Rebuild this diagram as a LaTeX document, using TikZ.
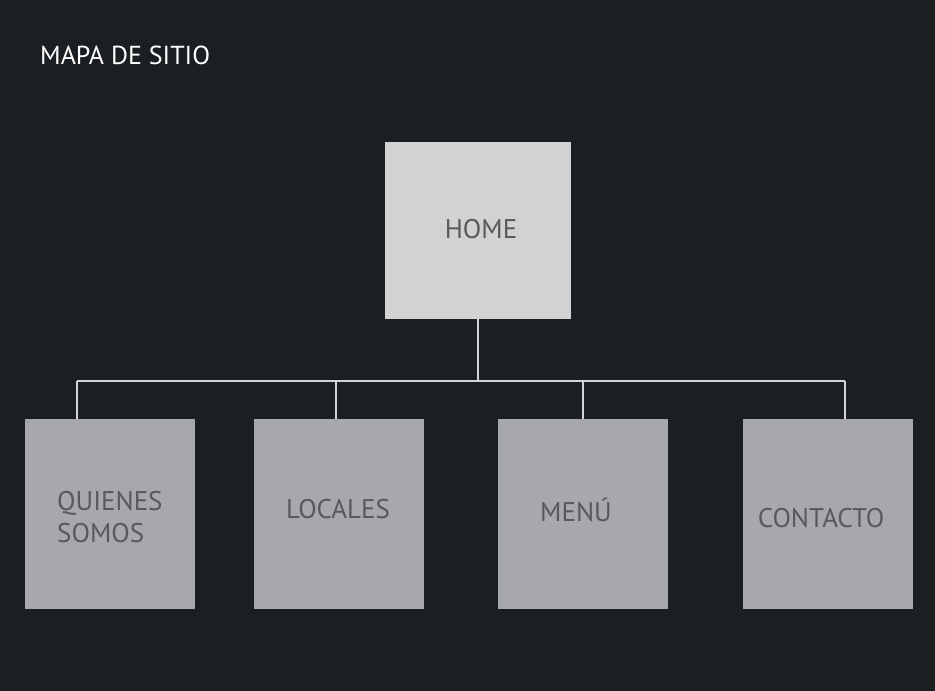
\documentclass[tikz,border=0pt]{standalone}
\usepackage{fontspec}
\setmainfont{PT Sans}
\definecolor{bg}{HTML}{1C1F22}
\definecolor{homefill}{HTML}{D1D2D4}
\definecolor{pagefill}{HTML}{A7A8AB}
\definecolor{labeltext}{HTML}{58595B}
\definecolor{wire}{HTML}{D4D4D6}
\tikzset{
  x=1pt,y=-1pt,
  homebox/.style={fill=homefill, draw=none, minimum width=186pt, minimum height=177pt, inner sep=0pt, anchor=north west},
  pagebox/.style={fill=pagefill, draw=none, minimum width=170pt, minimum height=190pt, inner sep=0pt, anchor=north west},
  boxlabel/.style={text=labeltext, font=\fontsize{27}{32}\selectfont, inner sep=0pt, align=left},
  wireline/.style={draw=wire, line width=1.3pt},
}
\begin{document}
\begin{tikzpicture}
\fill[bg] (0,0) rectangle (935,691);
\useasboundingbox (0,0) rectangle (935,691);
\node[text=white, font=\fontsize{26}{30}\selectfont, inner sep=0pt, anchor=base west] (title) at (40,64) {MAPA DE SITIO};

\node[homebox] (home) at (385,142) {};
\node[pagebox] (b1) at (25,419) {};
\node[pagebox] (b2) at (254,419) {};
\node[pagebox] (b3) at (498,419) {};
\node[pagebox] (b4) at (743,419) {};

\node[boxlabel, anchor=base] (thome) at (481,238) {HOME};
\node[boxlabel, anchor=base west] (t1) at (57,542) {QUIENES\\SOMOS};
\node[boxlabel, anchor=base] (t2) at (338,518) {LOCALES};
\node[boxlabel, anchor=base] (t3) at (576,521) {MENÚ};
\node[boxlabel, anchor=base] (t4) at (821,527) {CONTACTO};

\coordinate (j) at (478,381);
\coordinate (c1) at (77,381);
\coordinate (c2) at (336,381);
\coordinate (c3) at (583,381);
\coordinate (c4) at (845,381);
\draw[wireline] (home.south -| j) -- (j);
\draw[wireline] (c1) -- (c4);
\draw[wireline] (c1) -- (b1.north -| c1);
\draw[wireline] (c2) -- (b2.north -| c2);
\draw[wireline] (c3) -- (b3.north -| c3);
\draw[wireline] (c4) -- (b4.north -| c4);
\end{tikzpicture}
\end{document}
